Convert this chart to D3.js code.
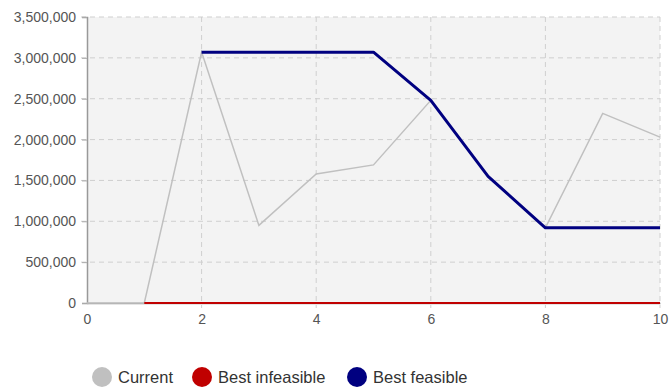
<!DOCTYPE html>
<html><head><meta charset="utf-8">
<script src="https://cdn.jsdelivr.net/npm/d3@7"></script>
<style>body{margin:0;background:#fff;}svg{display:block;font-family:Arial,"Liberation Sans",sans-serif;}</style>
</head><body><svg id="c" width="671" height="387"></svg>
<script>
const iterations = [0,1,2,3,4,5,6,7,8,9,10];
const current = [0,0,3070000,950000,1580000,1690000,2480000,1550000,920000,2320000,2030000];
const bestInfeasible = [null,0,0,0,0,0,0,0,0,0,0];
const bestFeasible = [null,null,3070000,3070000,3070000,3070000,2480000,1550000,920000,920000,920000];
const yTicks = [0,500000,1000000,1500000,2000000,2500000,3000000,3500000];
const xTicks = [0,2,4,6,8,10];
const seriesNames = ["Current","Best infeasible","Best feasible"];
const seriesColors = ["#c0c0c0","#c00000","#000080"];

const svg = d3.select("#c");
const m = {l:87, r:11, t:17, b:84};
const W = 671, H = 387;
const x = d3.scaleLinear().domain([0,10]).range([m.l, W-m.r]);
const y = d3.scaleLinear().domain([0,3500000]).range([H-m.b, m.t]);

svg.append("rect").attr("x",x(0)).attr("y",y(3500000)).attr("width",x(10)-x(0)).attr("height",y(0)-y(3500000)).attr("fill","#f3f3f3");

// grid
svg.append("g").selectAll("line").data(yTicks.filter(d=>d>0)).join("line")
  .attr("x1",x(0)-6).attr("x2",x(10)).attr("y1",d=>y(d)).attr("y2",d=>y(d))
  .attr("stroke","#cfcfcf").attr("stroke-dasharray","5,4");
svg.append("g").selectAll("line").data(xTicks.filter(d=>d>0)).join("line")
  .attr("x1",d=>x(d)).attr("x2",d=>x(d)).attr("y1",y(3500000)).attr("y2",y(0)+5)
  .attr("stroke","#cfcfcf").attr("stroke-dasharray","5,4");

// axes
const fmt = d3.format(",");
const ya = svg.append("g").attr("transform",`translate(${x(0)},0)`)
  .call(d3.axisLeft(y).tickValues(yTicks).tickFormat(fmt).tickSize(5).tickPadding(6));
const xa = svg.append("g").attr("transform",`translate(0,${y(0)})`)
  .call(d3.axisBottom(x).tickValues(xTicks).tickSize(0).tickPadding(11));
[ya,xa].forEach(a=>{
  a.select(".domain").attr("stroke","#999").attr("stroke-width",1.5);
  a.selectAll(".tick line").attr("stroke","#aaa");
  a.selectAll(".tick text").attr("fill","#555").attr("font-size","14px").attr("font-family","Arial,'Liberation Sans',sans-serif");
});
xa.selectAll(".tick line").remove();

// lines
const mk = vals => d3.line().defined(d=>d[1]!=null).x(d=>x(d[0])).y(d=>y(d[1]))(iterations.map((it,i)=>[it,vals[i]]));
svg.append("path").attr("d",mk(current)).attr("fill","none").attr("stroke",seriesColors[0]).attr("stroke-width",1.5);
svg.append("path").attr("d",mk(bestInfeasible)).attr("fill","none").attr("stroke",seriesColors[1]).attr("stroke-width",2);
svg.append("path").attr("d",mk(bestFeasible)).attr("fill","none").attr("stroke",seriesColors[2]).attr("stroke-width",3).attr("stroke-linejoin","round");

// legend
const legX = [102,202,357];
const lg = svg.append("g").selectAll("g").data(seriesNames).join("g")
  .attr("transform",(d,i)=>`translate(${legX[i]},377)`);
lg.append("circle").attr("r",10).attr("fill",(d,i)=>seriesColors[i]);
lg.append("text").attr("x",16).attr("y",6).text(d=>d).attr("font-size","16.5px").attr("fill","#333");
</script></body></html>
